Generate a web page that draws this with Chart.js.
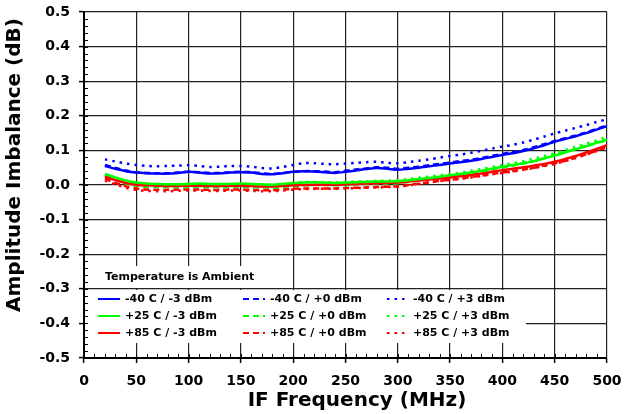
<!DOCTYPE html>
<html>
<head>
<meta charset="utf-8">
<script src="https://cdn.jsdelivr.net/npm/chart.js@4"></script>
<style>
  html, body { margin: 0; padding: 0; background: #fff; }
  #wrap { width: 624px; height: 414px; }
</style>
</head>
<body>
<div id="wrap"><canvas id="c" width="624" height="414"></canvas></div>
<script>
// ─────────────────────────────────────────────
// DATA
// ─────────────────────────────────────────────
const freqs = [20,30,40,50,60,70,80,90,100,110,120,130,140,150,160,170,180,190,200,210,220,230,240,250,260,270,280,290,300,310,320,330,340,350,360,370,380,390,400,410,420,430,440,450,460,470,480,490,500];

const xTicks = [0,50,100,150,200,250,300,350,400,450,500];
const yTicks = [-0.5,-0.4,-0.3,-0.2,-0.1,0,0.1,0.2,0.3,0.4,0.5];

const xTitle = "IF Frequency (MHz)";
const yTitle = "Amplitude Imbalance (dB)";
const legendTitle = "Temperature is Ambient";

// -40 C
const m40_m3 = [.055,.047,.040,.036,.034,.033,.033,.035,.038,.036,.033,.034,.036,.037,.036,.032,.031,.034,.038,.040,.039,.037,.035,.038,.042,.046,.049,.047,.044,.047,.050,.054,.058,.062,.066,.070,.075,.081,.087,.092,.098,.106,.115,.125,.133,.141,.150,.160,.170];
const m40_p0 = [.058,.049,.042,.037,.035,.034,.034,.036,.038,.037,.035,.035,.037,.038,.037,.034,.032,.035,.038,.040,.040,.039,.037,.041,.045,.048,.051,.050,.047,.050,.053,.057,.061,.065,.069,.073,.078,.084,.090,.095,.101,.109,.118,.127,.135,.143,.152,.162,.172];
const m40_p3 = [.074,.068,.062,.058,.055,.054,.055,.056,.057,.055,.052,.053,.055,.055,.053,.049,.048,.052,.058,.063,.063,.061,.060,.062,.064,.066,.067,.064,.063,.066,.070,.074,.079,.084,.088,.093,.099,.105,.111,.116,.123,.131,.140,.149,.157,.165,.173,.182,.190];

// +25 C
const p25_m3 = [.032,.022,.013,.007,.004,.003,.002,.002,.003,.004,.003,.003,.003,.004,.003,.002,.001,.003,.006,.007,.008,.007,.006,.007,.008,.009,.010,.010,.011,.014,.017,.020,.024,.028,.032,.036,.041,.047,.053,.058,.063,.069,.077,.085,.094,.103,.112,.122,.131];
const p25_p0 = [.028,.015,.004,-.002,-.005,-.006,-.006,-.006,-.005,-.005,-.006,-.006,-.005,-.005,-.006,-.007,-.008,-.006,-.003,-.001,.000,.000,-.001,.000,.002,.003,.004,.004,.005,.009,.013,.017,.021,.025,.029,.034,.039,.045,.051,.056,.062,.069,.077,.086,.095,.104,.113,.121,.129];
const p25_p3 = [.030,.020,.011,.006,.003,.002,.002,.002,.003,.003,.002,.002,.003,.003,.002,.001,.001,.003,.006,.008,.009,.008,.008,.009,.010,.011,.012,.013,.014,.017,.021,.024,.028,.032,.036,.041,.046,.052,.058,.063,.069,.076,.084,.092,.101,.110,.119,.129,.139];

// +85 C
const p85_m3 = [.024,.014,.006,.001,-.001,-.002,-.003,-.003,-.002,-.002,-.003,-.003,-.002,-.002,-.003,-.004,-.004,-.003,-.001,.000,.001,.001,.001,.002,.003,.004,.005,.006,.007,.010,.013,.016,.019,.022,.025,.029,.033,.038,.043,.047,.051,.056,.061,.067,.075,.084,.094,.104,.115];
const p85_p0 = [.018,.006,-.004,-.010,-.013,-.014,-.014,-.013,-.013,-.013,-.014,-.014,-.013,-.013,-.014,-.015,-.015,-.013,-.011,-.010,-.010,-.010,-.010,-.009,-.008,-.007,-.006,-.005,-.004,.000,.004,.008,.012,.015,.019,.023,.027,.032,.036,.040,.045,.050,.056,.062,.070,.079,.089,.099,.110];
const p85_p3 = [.013,.002,-.008,-.014,-.017,-.018,-.018,-.017,-.016,-.016,-.017,-.017,-.016,-.016,-.017,-.018,-.018,-.016,-.013,-.012,-.011,-.011,-.011,-.010,-.009,-.008,-.007,-.006,-.005,-.001,.003,.007,.011,.014,.018,.022,.026,.031,.035,.039,.044,.049,.055,.061,.069,.078,.088,.098,.108];

// ─────────────────────────────────────────────
// SERIES SETUP
// ─────────────────────────────────────────────
const BLUE = '#0000ff', GREEN = '#00ff00', RED = '#ff0000';
const DASH = [6, 4];
const DOT = [2.5, 5];

const series = [
  { label: '-40 C / -3 dBm', data: m40_m3, color: BLUE,  dash: [],   order: 1 },
  { label: '+25 C / -3 dBm', data: p25_m3, color: GREEN, dash: [],   order: 2 },
  { label: '+85 C / -3 dBm', data: p85_m3, color: RED,   dash: [],   order: 3 },
  { label: '-40 C / +0 dBm', data: m40_p0, color: BLUE,  dash: DASH, order: 4 },
  { label: '+25 C / +0 dBm', data: p25_p0, color: GREEN, dash: DASH, order: 5 },
  { label: '+85 C / +0 dBm', data: p85_p0, color: RED,   dash: DASH, order: 6 },
  { label: '-40 C / +3 dBm', data: m40_p3, color: BLUE,  dash: DOT,  order: 7 },
  { label: '+25 C / +3 dBm', data: p25_p3, color: GREEN, dash: DOT,  order: 8 },
  { label: '+85 C / +3 dBm', data: p85_p3, color: RED,   dash: DOT,  order: 9 }
];

const datasets = series.map(s => ({
  label: s.label,
  data: freqs.map((f, i) => ({ x: f, y: s.data[i] })),
  borderColor: s.color,
  backgroundColor: s.color,
  borderDash: s.dash,
  borderWidth: 2.5,
  borderCapStyle: 'butt',
  pointRadius: 0,
  tension: 0.3,
  fill: false,
  order: s.order
}));

const FONT = "'DejaVu Sans', Verdana, sans-serif";

// ─────────────────────────────────────────────
// LEGEND INSIDE PLOT (drawn over the grid)
// ─────────────────────────────────────────────
const legendBox = {
  id: 'legendBox',
  afterDatasetsDraw(chart) {
    const { ctx, chartArea } = chart;
    const left = chartArea.left + 1;
    ctx.save();
    ctx.fillStyle = '#fff';
    ctx.fillRect(left, 266, 175, 22);
    ctx.fillRect(left, 290, 441, 53);

    ctx.fillStyle = '#000';
    ctx.font = "bold 11px " + FONT;
    ctx.textBaseline = 'middle';
    ctx.fillText(legendTitle, 105, 277);

    const colX = [98, 243, 387];
    const txtX = [125, 270, 413];
    const rowY = [299, 316, 333];
    series.forEach((s, i) => {
      const col = Math.floor(i / 3), row = i % 3;
      const y = rowY[row];
      ctx.strokeStyle = s.color;
      ctx.lineWidth = 2;
      ctx.setLineDash(s.dash);
      ctx.beginPath();
      ctx.moveTo(colX[col], y);
      ctx.lineTo(colX[col] + 22, y);
      ctx.stroke();
      ctx.setLineDash([]);
      ctx.fillStyle = '#000';
      ctx.fillText(s.label, txtX[col], y);
    });
    ctx.restore();
  }
};

// minor ticks pointing into the plot + axis titles
const extras = {
  id: 'extras',
  afterDraw(chart) {
    const { ctx, chartArea, scales } = chart;
    ctx.save();
    ctx.strokeStyle = '#000';
    ctx.lineWidth = 1;
    ctx.beginPath();
    for (let v = 10; v < 500; v += 10) {
      const px = Math.round(scales.x.getPixelForValue(v)) + 0.5;
      ctx.moveTo(px, chartArea.bottom);
      ctx.lineTo(px, chartArea.bottom - 4);
    }
    for (let k = -24; k <= 24; k++) {
      const px = Math.round(scales.y.getPixelForValue(k * 0.02)) + 0.5;
      ctx.moveTo(chartArea.left, px);
      ctx.lineTo(chartArea.left + 4, px);
    }
    ctx.stroke();

    ctx.fillStyle = '#000';
    ctx.font = "bold 20px " + FONT;
    ctx.textAlign = 'center';
    ctx.textBaseline = 'middle';
    ctx.fillText(xTitle, 357, 401);
    ctx.translate(15, 165);
    ctx.rotate(-Math.PI / 2);
    ctx.fillText(yTitle, 0, 0);
    ctx.restore();
  }
};

// ─────────────────────────────────────────────
// CHART
// ─────────────────────────────────────────────
new Chart(document.getElementById('c'), {
  type: 'line',
  data: { datasets },
  plugins: [legendBox, extras],
  options: {
    responsive: false,
    animation: false,
    layout: { padding: { top: 12, right: 17, left: 0, bottom: 0 } },
    plugins: { legend: { display: false }, tooltip: { enabled: false } },
    scales: {
      x: {
        type: 'linear',
        min: 0, max: 500,
        afterFit: s => { s.height = 56; s.paddingLeft = 0; s.paddingRight = 0; },
        afterBuildTicks: s => { s.ticks = xTicks.map(v => ({ value: v })); },
        ticks: { color: '#000', font: { family: FONT, size: 14, weight: 'bold' }, padding: 10, maxRotation: 0 },
        grid: { color: '#222', lineWidth: 1.2, tickLength: 5, tickColor: '#000', tickWidth: 1.5 },
        border: { color: '#000', width: 2 }
      },
      y: {
        min: -0.5, max: 0.5,
        afterFit: s => { s.width = 84; s.paddingTop = 0; s.paddingBottom = 0; },
        afterBuildTicks: s => { s.ticks = yTicks.map(v => ({ value: v })); },
        ticks: { color: '#000', font: { family: FONT, size: 14, weight: 'bold' }, padding: 9,
                 callback: v => (Math.abs(v) < 1e-9 ? 0 : v).toFixed(1) },
        grid: { color: '#222', lineWidth: 1.2, tickLength: 5, tickColor: '#000', tickWidth: 1.5 },
        border: { color: '#000', width: 2 }
      }
    }
  }
});
</script>
</body>
</html>
